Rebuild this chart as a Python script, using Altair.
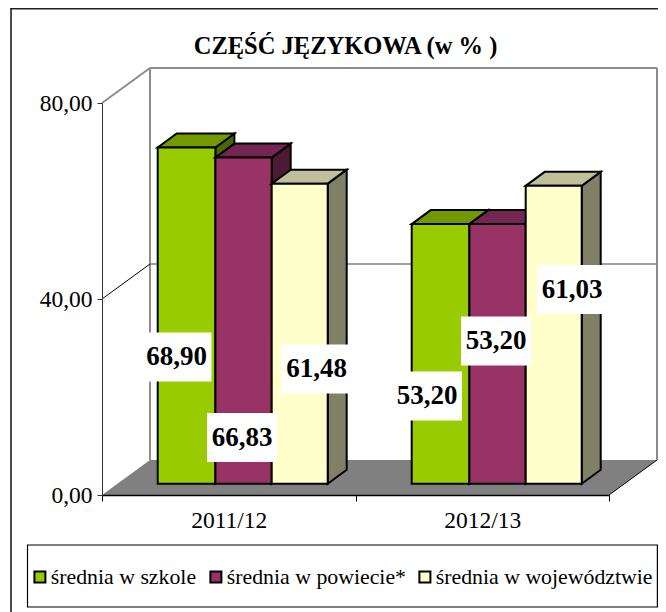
import altair as alt
import pandas as pd

categories = ["2011/12", "2012/13"]
series = ["średnia w szkole", "średnia w powiecie*", "średnia w województwie"]
values = [[68.90, 53.20], [66.83, 53.20], [61.48, 61.03]]
value_labels = [["68,90", "53,20"], ["66,83", "53,20"], ["61,48", "61,03"]]
front_colors = ["#99CC00", "#993366", "#FFFFCC"]
top_colors = ["#739900", "#732650", "#BFBF99"]
side_colors = ["#4D6600", "#4D1A33", "#808066"]

FONT = "Liberation Serif"
# pixel layout of the reference, turned into scale units below
X0, CAT_W, Y0, PX_PER_UNIT = 102, 253.5, 495, 4.9


def xu(px):
    return (px - X0) / CAT_W


def yu(py):
    return (Y0 - py) / PX_PER_UNIT


def dx(px):
    return px / CAT_W


def dy(px):
    return px / PX_PER_UNIT


X_SCALE = alt.Scale(domain=[0, 2], nice=False, zero=False)
Y_SCALE = alt.Scale(domain=[0, 80], nice=False, zero=False)
Y_AXIS = alt.Axis(title=None, values=[0, 40, 80], grid=False, labelFont=FONT,
                  labelFontSize=23.5, labelColor="#000000", labelPadding=5,
                  labelExpr="replace(format(datum.value, '.2f'), '.', ',')",
                  domainColor="#333333", domainWidth=1, tickColor="#333333",
                  tickSize=5, tickWidth=1, zindex=1)
X = lambda f: alt.X(f, type="quantitative", scale=X_SCALE, axis=None)
Y = lambda f: alt.Y(f, type="quantitative", scale=Y_SCALE, axis=Y_AXIS)


def segment(segs, color, width):
    df = pd.DataFrame(segs, columns=["x", "x2", "y", "y2"])
    return alt.Chart(df).mark_rule(color=color, strokeWidth=width).encode(
        x=X("x"), x2="x2", y=Y("y"), y2="y2"
    )


def boxes(rows, fill, stroke=None, width=0):
    df = pd.DataFrame(rows, columns=["x", "x2", "y", "y2"])
    kw = {"stroke": stroke, "strokeWidth": width} if stroke else {"strokeWidth": 0}
    return alt.Chart(df).mark_rect(fill=fill, **kw).encode(
        x=X("x"), x2="x2", y=Y("y"), y2="y2"
    )


def polygons(rows, fill, stroke=None, width=0):
    df = pd.DataFrame(rows, columns=["id", "x", "y", "y2"])
    kw = {"stroke": stroke, "strokeWidth": width, "strokeJoin": "miter"} if stroke else {}
    return alt.Chart(df).mark_area(fill=fill, opacity=1, **kw).encode(
        x=X("x"), y=Y("y"), y2="y2", detail="id:N"
    )


layers = []

# axes and legend carrier (invisible points; it owns the axes and the legend)
legend_df = pd.DataFrame({"cat": categories[0], "v": 0, "s": series})
axis_layer = alt.Chart(legend_df).mark_square(size=0).encode(
    x=alt.X("cat:N", sort=categories,
            scale=alt.Scale(domain=categories, paddingInner=0, paddingOuter=0),
            axis=alt.Axis(title=None, tickBand="extent", labelAngle=0, labelFont=FONT,
                          labelFontSize=23.5, labelColor="#000000", labelPadding=7,
                          domainColor="#000000", domainWidth=1.5, tickColor="#000000",
                          tickSize=6, tickWidth=1, grid=False, zindex=1)),
    y=Y("v"),
    color=alt.Color("s:N", sort=series,
                    scale=alt.Scale(domain=series, range=front_colors),
                    legend=alt.Legend(
                        title=None, orient="none", direction="horizontal", columns=3,
                        legendX=30 - X0 - 1, legendY=566 - 103, padding=0,
                        symbolType="square", symbolSize=121, symbolStrokeColor="#000000",
                        symbolStrokeWidth=2, symbolOpacity=1, labelFont=FONT, labelFontSize=21.8,
                        labelColor="#000000", labelOffset=0, columnPadding=8, gridAlign="none",
                        labelLimit=400,
                    )),
)
layers.append(axis_layer)

# outer frame and legend frame
layers.append(segment([[xu(11), xu(666), yu(8.6), yu(8.6)]], "#222222", 1.6))
layers.append(segment([[xu(11), xu(11), yu(8), yu(612)]], "#000000", 1.4))
layers.append(boxes([[xu(27.5), xu(657.4), yu(545), yu(607)]], "#FFFFFF", "#000000", 1.2))

# back wall and floor
WALL_DX, WALL_DY = dx(48), dy(35)
layers.append(polygons(
    [[0, 0, 0, 0], [0, WALL_DX, 0, WALL_DY], [0, 2, 0, WALL_DY], [0, 2 + WALL_DX, WALL_DY, WALL_DY]],
    "#808080"))
layers.append(segment([
    [WALL_DX, WALL_DX, WALL_DY, 80 + WALL_DY],
    [WALL_DX, 2 + WALL_DX, 80 + WALL_DY, 80 + WALL_DY],
    [2 + WALL_DX, 2 + WALL_DX, WALL_DY, 80 + WALL_DY],
    [0, WALL_DX, 80, 80 + WALL_DY],
], "#8C8C8C", 2))
layers.append(segment([[WALL_DX, 2 + WALL_DX, 40 + WALL_DY, 40 + WALL_DY]], "#808080", 1.5))
layers.append(segment([
    [0, WALL_DX, 40, 40 + WALL_DY],
    [2, 2 + WALL_DX, 0, WALL_DY],
], "#000000", 1))

# bars
group_left = [xu(157.7), xu(411.7)]
edges = [dx(0), dx(57.7), dx(114), dx(170)]
base = yu(483.7)
bar_scale = 4.88 / PX_PER_UNIT
TOP_DX, TOP_DY = dx(19), dy(14)
for s in range(3):
    side, top, front = [], [], []
    for c in range(2):
        x0 = group_left[c] + edges[s]
        x1 = group_left[c] + edges[s + 1]
        v = base + values[s][c] * bar_scale
        side += [[c, x1, base, v], [c, x1 + TOP_DX, base + TOP_DY, v + TOP_DY]]
        top += [[c, x0, v, v], [c, x0 + TOP_DX, v, v + TOP_DY],
                [c, x1, v, v + TOP_DY], [c, x1 + TOP_DX, v + TOP_DY, v + TOP_DY]]
        front.append([x0, x1, base, v])
    layers.append(polygons(side, side_colors[s], "#000000", 2))
    layers.append(polygons(top, top_colors[s], "#000000", 2))
    layers.append(boxes(front, front_colors[s], "#000000", 2))

# dragged data labels (white boxes)
label_cx = [[176.5, 427], [242, 496], [316.5, 572]]
label_cy = [[357, 396], [437.5, 341], [369, 289.5]]
lab = []
for s in range(3):
    for c in range(2):
        lab.append({
            "x": xu(label_cx[s][c]), "y": yu(label_cy[s][c]),
            "x0": xu(label_cx[s][c] - 35), "x1": xu(label_cx[s][c] + 35),
            "y0": yu(label_cy[s][c] + 24.5), "y1": yu(label_cy[s][c] - 24.5),
            "t": value_labels[s][c],
        })
lab_df = pd.DataFrame(lab)
layers.append(alt.Chart(lab_df).mark_rect(fill="#FFFFFF", strokeWidth=0).encode(
    x=X("x0"), x2="x1", y=Y("y0"), y2="y1"))
layers.append(alt.Chart(lab_df).mark_text(
    font=FONT, fontSize=27, fontWeight="bold", color="#000000", align="center", baseline="middle"
).encode(x=X("x"), y=Y("y"), text="t:N"))

chart = alt.layer(*layers).resolve_scale(x="independent").properties(
    width=507, height=392,
    background="#FFFFFF",
    title=alt.TitleParams("CZĘŚĆ JĘZYKOWA (w % )", font=FONT, fontSize=24.5, fontWeight="bold",
                          color="#000000", anchor="middle", dx=-10, offset=-52, frame="group"),
    padding={"left": 94, "top": 95, "right": 49, "bottom": 117},
    autosize=alt.AutoSizeParams(type="none"),
).configure_view(stroke=None)

chart.save("out.html", embed_options={"renderer": "svg", "actions": False})
